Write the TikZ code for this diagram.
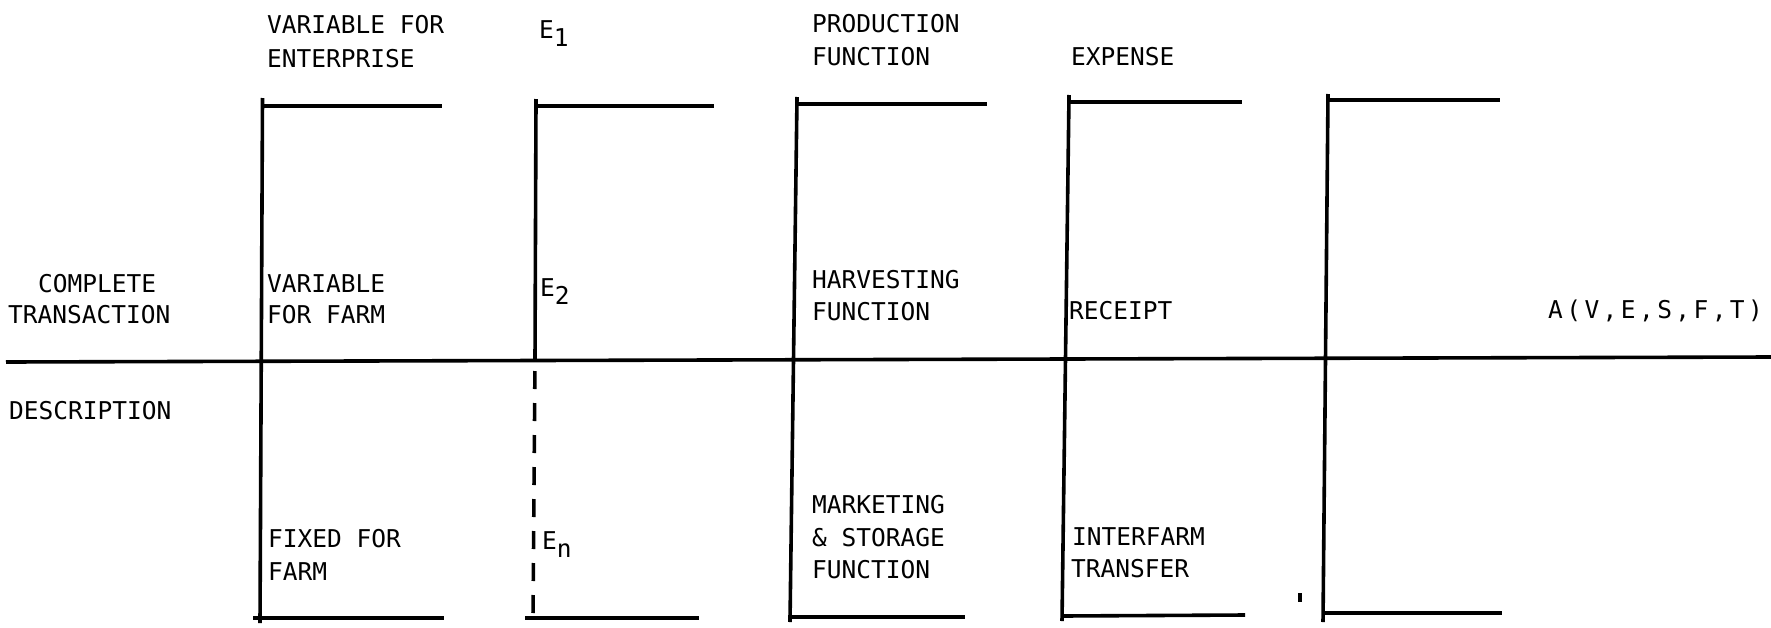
\documentclass[tikz,border=0pt]{standalone}
\usepackage{fontspec}
\newfontfamily\lblfont{DejaVu Sans Mono}
\newcommand{\lowsub}[1]{\raisebox{-0.36em}{#1}}
\begin{document}
\begin{tikzpicture}[x=1pt,y=-1pt,
  rule/.style={line width=3.6pt, line cap=butt},
  dashrule/.style={rule, dash pattern=on 18pt off 14pt, dash phase=21pt},
  lbl/.style={anchor=base west, inner sep=0pt, font={\lblfont\fontsize{24.5pt}{33pt}\selectfont}}]
\useasboundingbox[fill=white] (0,0) rectangle (1771,627);

% dividing line between the two rows
\draw[rule] (6,362) -- (1771,357);

% column brackets
\draw[rule] (262.5,98) -- (260,623);
\draw[rule] (262.5,106) -- (442,106);
\draw[rule] (253,618) -- (444,618);

\draw[rule] (536,99) -- (535,360);
\draw[dashrule] (535,360) -- (533,618);
\draw[rule] (536,106) -- (714,106);
\draw[rule] (525,618) -- (699,618);

\draw[rule] (797,97) -- (790,622);
\draw[rule] (797,104) -- (987,104);
\draw[rule] (788,617) -- (965,617);

\draw[rule] (1069,95) -- (1062,621);
\draw[rule] (1069,102) -- (1242,102);
\draw[rule] (1062,616) -- (1245,615);

\draw[rule] (1328,94) -- (1323,622);
\draw[rule] (1328,100) -- (1500,100);
\draw[rule] (1323,613) -- (1502,613);

\draw[rule] (1300,593) -- (1300,602);

% labels
\node[lbl] (varent1) at (267,33) {VARIABLE FOR};
\node[lbl] (varent2) at (267,67) {ENTERPRISE};
\node[lbl] (eone) at (539,38) {E\lowsub{1}};
\node[lbl] (prod1) at (812,32) {PRODUCTION};
\node[lbl] (prod2) at (812,65) {FUNCTION};
\node[lbl] (expense) at (1071,65) {EXPENSE};

\node[lbl] (compl1) at (38,292) {COMPLETE};
\node[lbl] (compl2) at (8,323) {TRANSACTION};
\node[lbl] (varfarm1) at (267,292) {VARIABLE};
\node[lbl] (varfarm2) at (267,323) {FOR FARM};
\node[lbl] (etwo) at (540,296) {E\lowsub{2}};
\node[lbl] (harv1) at (812,288) {HARVESTING};
\node[lbl] (harv2) at (812,320) {FUNCTION};
\node[lbl] (receipt) at (1069,319) {RECEIPT};
\node[lbl] (afun) at (1548,318) {\addfontfeature{LetterSpace=14}A(V,E,S,F,T)};

\node[lbl] (descr) at (9,419) {DESCRIPTION};
\node[lbl] (fixed1) at (268,547) {FIXED FOR};
\node[lbl] (fixed2) at (268,580) {FARM};
\node[lbl] (en) at (542,549) {E\lowsub{n}};
\node[lbl] (mkt1) at (812,513) {MARKETING};
\node[lbl] (mkt2) at (812,546) {\& STORAGE};
\node[lbl] (mkt3) at (812,578) {FUNCTION};
\node[lbl] (inter1) at (1072,545) {INTERFARM};
\node[lbl] (inter2) at (1071,577) {TRANSFER};
\end{tikzpicture}
\end{document}
